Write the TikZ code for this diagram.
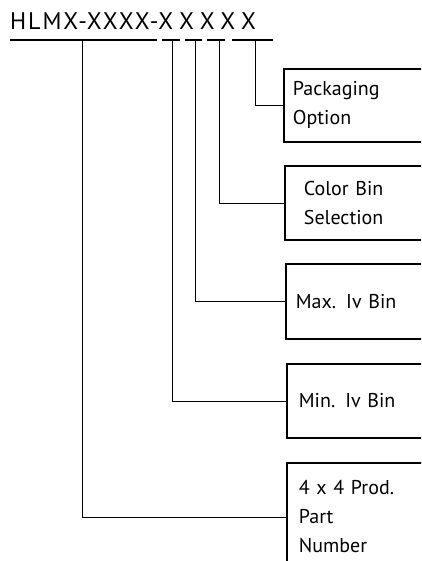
\documentclass[tikz,border=0pt]{standalone}
\usepackage{fontspec}
\setmainfont[WordSpace=0.8]{PT Sans}
\newfontfamily\codefont[LetterSpace=8, WordSpace=0.7]{PT Sans}

\tikzset{
	binbox/.style={draw, line width=1.8pt, anchor=north west, minimum width=140pt, align=left, text width=125pt, inner xsep=9pt, font=\fontsize{20}{29}\selectfont},
	lead/.style={line width=0.8pt},
	bar/.style={line width=1.8pt}
}

\begin{document}
\begin{tikzpicture}[x=1pt, y=-1pt]
				\clip (0,0) rectangle (421,561);
				
				\node[anchor=base west, inner sep=0pt, font=\codefont\fontsize{24}{28}\selectfont] (code) at (10,30) {HLMX-XXXX-X X X X X};
				
				\draw[bar] (10,40) -- (157,40);
				\draw[bar] (162,40) -- (180,40);
				\draw[bar] (185,40) -- (202,40);
				\draw[bar] (207,40) -- (225,40);
				\draw[bar] (232,40) -- (273,40);
				
				\coordinate (tapA) at (82,40);
				\coordinate (tapB) at (172,40);
				\coordinate (tapC) at (195,40);
				\coordinate (tapD) at (219,40);
				\coordinate (tapE) at (255,40);
				
				\node[binbox, minimum height=73pt, minimum width=137pt] (pack) at (283,68) {Packaging\\Option};
				\node[binbox, minimum height=74pt, inner xsep=19pt] (color) at (284,165) {Color Bin\\Selection};
				\node[binbox, minimum height=75pt, inner xsep=10pt] (maxiv) at (285,263) {Max. Iv Bin};
				\node[binbox, minimum height=74pt, inner xsep=12pt] (miniv) at (286,363) {Min. Iv Bin};
				\node[binbox, minimum height=108pt, inner xsep=12pt] (prod) at (286,462) {4 x 4 Prod.\\Part\\Number};
				
				\draw[lead] (tapE) |- (pack.west);
				\draw[lead] (tapD) |- (color.west);
				\draw[lead] (tapC) |- (maxiv.west);
				\draw[lead] (tapB) |- (miniv.west);
				\draw[lead] (tapA) |- (prod.west);
				\end{tikzpicture}
\end{document}
